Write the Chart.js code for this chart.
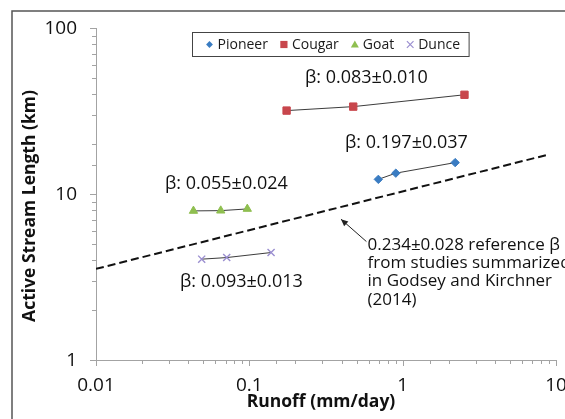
<!DOCTYPE html>
<html>
<head>
<meta charset="utf-8">
<script src="https://cdn.jsdelivr.net/npm/chart.js"></script>
<style>
  html, body { margin: 0; padding: 0; background: #ffffff; }
  #wrap { width: 565px; height: 419px; position: relative; overflow: hidden; }
  canvas { display: block; }
</style>
</head>
<body>
<div id="wrap"><canvas id="c" width="565" height="419"></canvas></div>
<script>
// ---- data ----
const SERIES_NAMES = ['Pioneer', 'Cougar', 'Goat', 'Dunce'];
const PIONEER_RUNOFF = [0.694, 0.902, 2.20];
const PIONEER_LENGTH = [12.25, 13.35, 15.46];
const COUGAR_RUNOFF = [0.175, 0.476, 2.53];
const COUGAR_LENGTH = [31.8, 33.6, 39.6];
const GOAT_RUNOFF = [0.0432, 0.0651, 0.097];
const GOAT_LENGTH = [7.91, 7.94, 8.13];
const DUNCE_RUNOFF = [0.0489, 0.0712, 0.1386];
const DUNCE_LENGTH = [4.05, 4.14, 4.44];
const REF_RUNOFF = [0.01, 8.75];
const REF_LENGTH = [3.54, 17.2];

const X_TICK_LABELS = ['0.01', '0.1', '1', '10'];
const Y_TICK_LABELS = ['1', '10', '100'];
const X_TITLE = 'Runoff (mm/day)';
const Y_TITLE = 'Active Stream Length (km)';

const BETA_LABELS = ['β: 0.197±0.037', 'β: 0.083±0.010', 'β: 0.055±0.024', 'β: 0.093±0.013'];
const BETA_LABEL_RUNOFF = [0.421, 0.2307, 0.0282, 0.0353];
const BETA_LABEL_LENGTH = [20.2, 50.1, 11.5, 2.95];
const REF_NOTE = ['0.234±0.028 reference β', 'from studies summarized', 'in Godsey and Kirchner', '(2014)'];
const REF_NOTE_RUNOFF = 0.59;
const REF_NOTE_LENGTH = 4.94;
const ARROW_FROM = [0.580, 5.17];
const ARROW_TO = [0.396, 7.05];

// ---- styles ----
const COLORS = ['#3a7cc2', '#c8464c', '#8fbf50', '#9b8fd0'];
const STYLES = ['rectRot', 'rect', 'triangle', 'crossRot'];
const RADII = [4.2, 5.2, 4.8, 5];
const AXIS_COLOR = '#a3a3a3';
const TEXT_COLOR = '#111111';
const FONT = '"Open Sans", "Noto Sans", "DejaVu Sans", sans-serif';

function pts(xs, ys) { return xs.map((x, i) => ({ x: x, y: ys[i] })); }
const SERIES_X = [PIONEER_RUNOFF, COUGAR_RUNOFF, GOAT_RUNOFF, DUNCE_RUNOFF];
const SERIES_Y = [PIONEER_LENGTH, COUGAR_LENGTH, GOAT_LENGTH, DUNCE_LENGTH];

const datasets = SERIES_NAMES.map((name, i) => ({
  label: name,
  data: pts(SERIES_X[i], SERIES_Y[i]),
  showLine: true,
  borderColor: '#3c3c3c',
  borderWidth: 1,
  pointStyle: STYLES[i],
  pointRadius: RADII[i],
  pointBackgroundColor: COLORS[i],
  pointBorderColor: COLORS[i],
  pointBorderWidth: i === 3 ? 1.4 : 1,
  order: 0
}));
datasets.push({
  label: 'reference',
  data: pts(REF_RUNOFF, REF_LENGTH),
  showLine: true,
  borderColor: '#111111',
  borderWidth: 2,
  borderDash: [8, 4],
  pointRadius: 0,
  order: 1
});

function isPow10(v) { const l = Math.log10(v); return Math.abs(l - Math.round(l)) < 1e-9; }

function drawMarker(ctx, style, x, y, r, color) {
  ctx.save();
  ctx.fillStyle = color; ctx.strokeStyle = color; ctx.lineWidth = 1.2;
  ctx.beginPath();
  if (style === 'rectRot') {
    ctx.moveTo(x - r, y); ctx.lineTo(x, y - r); ctx.lineTo(x + r, y); ctx.lineTo(x, y + r); ctx.closePath(); ctx.fill();
  } else if (style === 'rect') {
    ctx.rect(x - r, y - r, 2 * r, 2 * r); ctx.fill();
  } else if (style === 'triangle') {
    ctx.moveTo(x, y - r); ctx.lineTo(x + r, y + r * 0.75); ctx.lineTo(x - r, y + r * 0.75); ctx.closePath(); ctx.fill();
  } else {
    ctx.moveTo(x - r, y - r); ctx.lineTo(x + r, y + r); ctx.moveTo(x + r, y - r); ctx.lineTo(x - r, y + r); ctx.stroke();
  }
  ctx.restore();
}

const decorPlugin = {
  id: 'decor',
  beforeDraw(chart) {
    const ctx = chart.ctx;
    ctx.save();
    ctx.fillStyle = '#ffffff';
    ctx.fillRect(0, 0, chart.width, chart.height);
    ctx.strokeStyle = '#555555';
    ctx.lineWidth = 1.5;
    ctx.strokeRect(12, 11, chart.width + 40, chart.height + 40);
    ctx.restore();
  },
  afterDraw(chart) {
    const ctx = chart.ctx;
    const xs = chart.scales.x, ys = chart.scales.y;
    const ca = chart.chartArea;
    ctx.save();
    // tick marks
    ctx.strokeStyle = AXIS_COLOR; ctx.lineWidth = 1;
    ctx.beginPath();
    xs.ticks.forEach(t => {
      const px = Math.round(xs.getPixelForValue(t.value)) + 0.5;
      const len = isPow10(t.value) ? 6 : 4;
      ctx.moveTo(px, ca.bottom); ctx.lineTo(px, ca.bottom + len);
    });
    ys.ticks.forEach(t => {
      const py = Math.round(ys.getPixelForValue(t.value)) + 0.5;
      const len = isPow10(t.value) ? 6 : 4;
      ctx.moveTo(ca.left, py); ctx.lineTo(ca.left - len, py);
    });
    ctx.stroke();

    // tick labels
    ctx.fillStyle = TEXT_COLOR;
    ctx.font = '19px ' + FONT;
    ctx.textBaseline = 'middle';
    ctx.textAlign = 'center';
    X_TICK_LABELS.forEach(lbl => {
      ctx.fillText(lbl, xs.getPixelForValue(parseFloat(lbl)), ca.bottom + 26);
    });
    ctx.textAlign = 'right';
    Y_TICK_LABELS.forEach(lbl => {
      ctx.fillText(lbl, ca.left - 19, ys.getPixelForValue(parseFloat(lbl)) + 1);
    });

    // axis titles
    ctx.font = 'bold 17.5px ' + FONT;
    ctx.textAlign = 'center';
    ctx.fillText(X_TITLE, (ca.left + ca.right) / 2 - 5, ca.bottom + 42);
    ctx.save();
    ctx.translate(30, (ca.top + ca.bottom) / 2 + 12);
    ctx.rotate(-Math.PI / 2);
    ctx.fillText(Y_TITLE, 0, 0);
    ctx.restore();

    // beta annotations
    ctx.font = '18px ' + FONT;
    ctx.textAlign = 'left';
    BETA_LABELS.forEach((t, i) => {
      ctx.fillText(t, xs.getPixelForValue(BETA_LABEL_RUNOFF[i]), ys.getPixelForValue(BETA_LABEL_LENGTH[i]));
    });
    ctx.font = '17px ' + FONT;
    const nx = xs.getPixelForValue(REF_NOTE_RUNOFF);
    const ny = ys.getPixelForValue(REF_NOTE_LENGTH);
    REF_NOTE.forEach((t, i) => ctx.fillText(t, nx, ny + i * 18.4));

    // arrow
    const ax0 = xs.getPixelForValue(ARROW_FROM[0]), ay0 = ys.getPixelForValue(ARROW_FROM[1]);
    const ax1 = xs.getPixelForValue(ARROW_TO[0]), ay1 = ys.getPixelForValue(ARROW_TO[1]);
    ctx.strokeStyle = '#222222'; ctx.fillStyle = '#222222'; ctx.lineWidth = 1;
    ctx.beginPath(); ctx.moveTo(ax0, ay0); ctx.lineTo(ax1, ay1); ctx.stroke();
    const ang = Math.atan2(ay1 - ay0, ax1 - ax0);
    const hl = 7, hw = 3.2;
    ctx.beginPath();
    ctx.moveTo(ax1, ay1);
    ctx.lineTo(ax1 - hl * Math.cos(ang) + hw * Math.sin(ang), ay1 - hl * Math.sin(ang) - hw * Math.cos(ang));
    ctx.lineTo(ax1 - hl * Math.cos(ang) - hw * Math.sin(ang), ay1 - hl * Math.sin(ang) + hw * Math.cos(ang));
    ctx.closePath(); ctx.fill();

    // legend
    ctx.font = '14px ' + FONT;
    ctx.textBaseline = 'middle';
    const widths = SERIES_NAMES.map(n => ctx.measureText(n).width);
    let total = 17 + 8 + widths[0];
    for (let i = 1; i < widths.length; i++) total += 16 + 8 + widths[i];
    total += 9;
    const bx = Math.round((ca.left + ca.right) / 2 + 4 - total / 2) + 0.5;
    const by = ca.top + 4.5;
    const bh = 24;
    ctx.strokeStyle = '#444444'; ctx.lineWidth = 1;
    ctx.strokeRect(bx, by, total, bh);
    let cx = bx + 17;
    const cy = by + bh / 2;
    const lr = [3.4, 3.6, 4, 3.3];
    SERIES_NAMES.forEach((n, i) => {
      drawMarker(ctx, STYLES[i], cx, cy, lr[i], COLORS[i]);
      ctx.fillStyle = '#1a1a1a';
      ctx.fillText(n, cx + 8, cy + 0.5);
      cx = cx + 8 + widths[i] + 16;
    });
    ctx.restore();
  }
};

function build() {
  new Chart(document.getElementById('c'), {
    type: 'scatter',
    data: { datasets: datasets },
    plugins: [decorPlugin],
    options: {
      responsive: false,
      animation: false,
      layout: { padding: { top: 28, right: 9, left: 0, bottom: 0 } },
      plugins: { legend: { display: false }, tooltip: { enabled: false } },
      scales: {
        x: {
          type: 'logarithmic', min: 0.01, max: 10,
          grid: { display: false },
          border: { display: true, color: AXIS_COLOR, width: 1 },
          ticks: { display: false },
          afterFit(s) { s.height = 59; s.paddingLeft = 0; s.paddingRight = 0; }
        },
        y: {
          type: 'logarithmic', min: 1, max: 100,
          grid: { display: false },
          border: { display: true, color: AXIS_COLOR, width: 1 },
          ticks: { display: false },
          afterFit(s) { s.width = 96; s.paddingTop = 0; s.paddingBottom = 0; }
        }
      }
    }
  });
}

if (document.fonts && document.fonts.load) {
  Promise.all([
    document.fonts.load('17px "Open Sans"'),
    document.fonts.load('bold 16px "Open Sans"')
  ]).then(build, build);
} else {
  build();
}
</script>
</body>
</html>
